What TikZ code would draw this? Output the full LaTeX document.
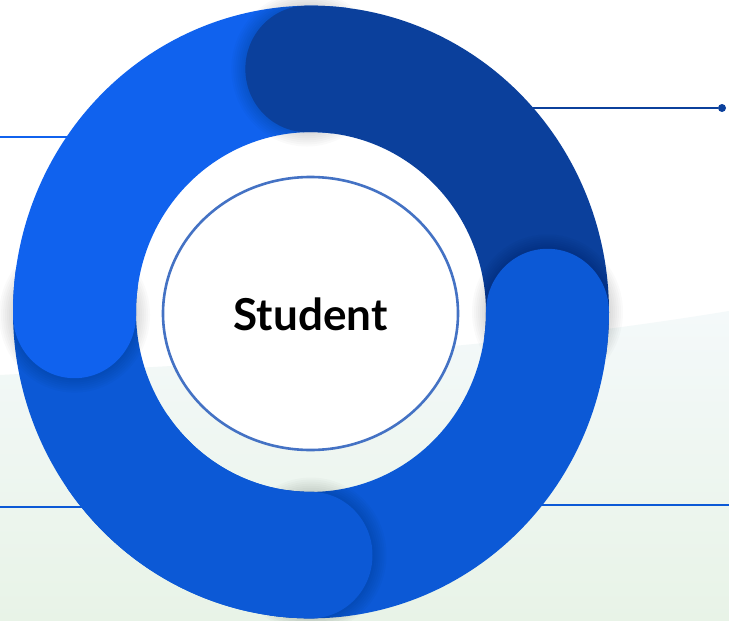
\documentclass[tikz,border=0pt]{standalone}
\usepackage{fontspec}
\setmainfont{Lato}
\usetikzlibrary{shapes.geometric}
\definecolor{darkseg}{HTML}{0B409C}
\definecolor{brightseg}{HTML}{1062EE}
\definecolor{medseg}{HTML}{0C59D6}
\definecolor{bgA}{HTML}{F4F9FA}
\definecolor{bgB}{HTML}{E8F3E7}
\definecolor{ovalline}{HTML}{4472C4}
\newcommand\ringseg[3]{%
  \fill[#3] (#1:298) arc[start angle=#1, end angle=#2, radius=298]
    -- (#2:175) arc[start angle=#2, end angle=#1, radius=175]
    arc[start angle=#1+180, end angle=#1, radius=61.5] -- cycle;}
\newcommand\capshadow[1]{%
  \foreach \k in {0,...,7}{\fill[black, opacity=0.02] (#1:236.5) circle[radius=61.5+14-2*\k];}}
\tikzset{
  leader/.style={line width=2pt},
  dotend/.style={circle, fill=darkseg, inner sep=0pt, minimum size=8pt},
  label/.style={font=\bfseries\fontsize{44}{50}\selectfont, text=black}
}
\begin{document}
\begin{tikzpicture}[x=1pt,y=-1pt]
\useasboundingbox (0,0) rectangle (729,621);
\fill[white] (0,0) rectangle (729,621);
\shade[top color=bgA, bottom color=bgB] (0,375) .. controls (250,362) and (480,352) .. (729,311) -- (729,621) -- (0,621) -- cycle;
% leader lines
\node[dotend] (dot) at (722,108) {};
\coordinate (trA) at (480,108);
\draw[leader, darkseg] (trA) -- (dot);
\coordinate (lA) at (0,137);
\coordinate (lB) at (120,137);
\draw[leader, brightseg] (lA) -- (lB);
\coordinate (blA) at (0,507);
\coordinate (blB) at (120,507);
\draw[leader, medseg] (blA) -- (blB);
\coordinate (brA) at (500,505);
\coordinate (brB) at (729,505);
\draw[leader, medseg] (brA) -- (brB);
% ring
\begin{scope}[shift={(311,312)}, yscale=-1.028]
  \ringseg{270}{172}{medseg}
  \capshadow{180.7}
  \ringseg{180.7}{83}{brightseg}
  \capshadow{91}
  \ringseg{91}{-8}{darkseg}
  \capshadow{0}
  \ringseg{0}{-98}{medseg}
  \capshadow{270}
  \ringseg{270}{215}{medseg}
\end{scope}
\node[ellipse, draw=ovalline, line width=2.6pt, fill=white, minimum width=295pt, minimum height=273pt, inner sep=0pt] (oval) at (310.5,313.5) {};
\node[label] (student) at (310.5,314) {Student};
\end{tikzpicture}
\end{document}
